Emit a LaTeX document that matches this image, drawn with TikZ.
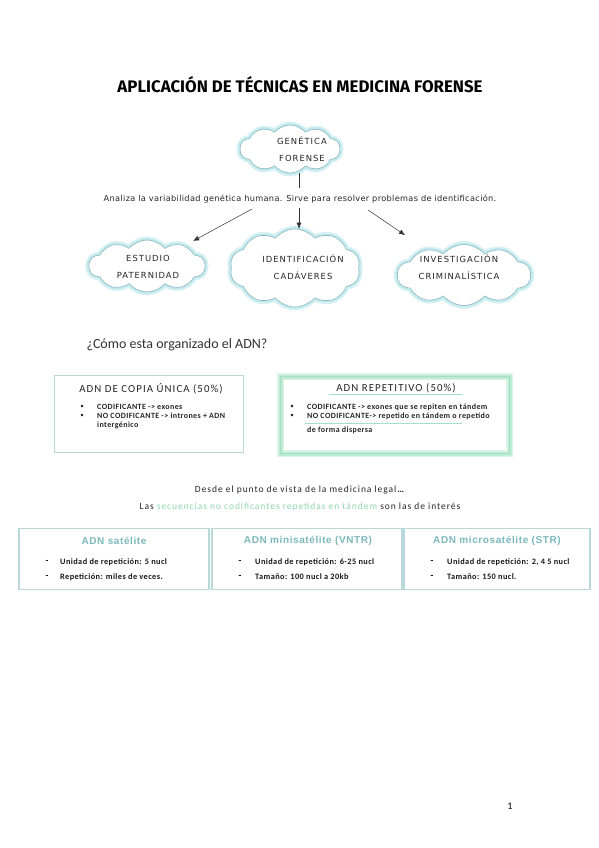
\documentclass[tikz,border=0pt]{standalone}
\usepackage{fontspec}
\usepackage{graphicx}
\usepackage{xcolor}
\usetikzlibrary{shapes.symbols,arrows.meta}
\setmainfont{Carlito}
\newfontfamily\esp{Carlito}[LetterSpace=10]
\newfontfamily\espch{Carlito}[LetterSpace=5]
\newfontfamily\verd{DejaVu Sans}[LetterSpace=12]
\newfontfamily\verdana{DejaVu Sans}[LetterSpace=4]
\newfontfamily\arl{Liberation Sans}[LetterSpace=6]
\newfontfamily\hand{Fira Sans}

\definecolor{glow}{HTML}{C2E9ED}
\definecolor{cloudline}{HTML}{8CB9BF}
\definecolor{mint}{HTML}{BDEBD4}
\definecolor{mintline}{HTML}{A6E0C4}
\definecolor{tealtit}{HTML}{7CB8BC}
\definecolor{boxline}{HTML}{B9D8D9}
\definecolor{greentext}{HTML}{90D4AF}

\tikzset{
  nube/.style={cloud,cloud puffs=10,cloud puff arc=100,cloud ignores aspect,draw=cloudline,line width=0.6pt,fill=white,inner sep=0pt,
    preaction={draw=glow!60,line width=7pt},preaction={draw=glow,line width=4pt}},
  nubetxt/.style={font=\verd\fontsize{8.4}{10}\selectfont,align=center,text=black!85},
  flecha/.style={-{Latex[length=6pt,width=5pt]},line width=0.5pt,black!80},
  titulo/.style={font=\esp\fontsize{10.8}{12}\selectfont,text=black!85},
  punto/.style={font=\fontsize{7}{8}\selectfont,text=black!85},
  item/.style={anchor=west,font=\espch\bfseries\fontsize{8}{9}\selectfont,text=black!85,inner sep=0pt},
  itemtres/.style={anchor=west,font=\espch\bfseries\fontsize{8.3}{9}\selectfont,text=black!90,inner sep=0pt},
  subraya/.style={mintline,line width=0.8pt},
  cajauno/.style={draw=boxline,line width=1pt},
  cajados/.style={draw=mintline,line width=0.8pt,preaction={draw=mint!55,line width=7pt},preaction={draw=mint,line width=4pt}},
  cajatres/.style={draw=boxline,line width=1.3pt,minimum width=190pt,minimum height=61pt},
  tittres/.style={font=\arl\bfseries\fontsize{10}{11}\selectfont,text=tealtit},
  guion/.style={font=\bfseries\fontsize{9}{9}\selectfont}
}

\begin{document}
\begin{tikzpicture}[x=1pt,y=-1pt]
\useasboundingbox[fill=white] (0,0) rectangle (599,848);
\node (titulo) at (300,85) {\resizebox{365pt}{16pt}{\hand\bfseries APLICACIÓN DE TÉCNICAS EN MEDICINA FORENSE}};

% nubes
\node[nube,minimum width=100pt,minimum height=48pt] (gen) at (290,149) {};
\node[nubetxt] (gentxt) at (302,149) {GENÉTICA\\[7pt]FORENSE};
\node[font=\verdana\fontsize{8.2}{9}\selectfont,text=black!85] (analiza) at (300,199) {Analiza la variabilidad genética humana. Sirve para resolver problemas de identificación.};
\coordinate (stem) at (299,188);
\draw[black!80,line width=0.5pt] (gen.south -| stem) -- (stem);

\node[nube,minimum width=116pt,minimum height=52pt] (pat) at (147,266) {};
\node[nubetxt] (pattxt) at (148,267) {ESTUDIO\\[7pt]PATERNIDAD};
\node[nube,minimum width=130pt,minimum height=78pt] (cad) at (295,268) {};
\node[nubetxt] (cadtxt) at (303,267) {IDENTIFICACIÓN\\[7pt]CADÁVERES};
\node[nube,minimum width=133pt,minimum height=61pt] (crim) at (464,275) {};
\node[nubetxt] (crimtxt) at (459,267) {INVESTIGACIÓN\\[7pt]CRIMINALÍSTICA};

\coordinate (al) at (252,209);
\coordinate (am) at (299,208);
\coordinate (ar) at (368,210);
\draw[flecha,shorten >=10pt] (al) -- (pat);
\draw[flecha] (am) -- (am |- cad.north);
\draw[flecha,shorten >=26pt] (ar) -- (crim);

\node[anchor=west,font=\fontsize{14}{16}\selectfont,text=black!80] (pregunta) at (83,345) {¿Cómo esta organizado el ADN?};

% copia unica
\node[cajauno,minimum width=189pt,minimum height=77pt] (copia) at (149,414) {};
\node[titulo] (copiatit) at (151,389) {ADN DE COPIA ÚNICA (50\%)};
\node[punto] at (82,407) {•};
\node[punto] at (82,416) {•};
\node[item] (c1) at (97,407) {CODIFICANTE -> exones};
\node[item] (c2) at (97,416) {NO CODIFICANTE -> intrones + ADN};
\node[item] (c3) at (97,425) {intergénico};

% repetitivo
\node[cajados,minimum width=229pt,minimum height=77pt] (repet) at (395,415) {};
\node[titulo] (repettit) at (396,388) {ADN REPETITIVO (50\%)};
\draw[subraya] ([xshift=-4pt,yshift=-3pt]repettit.base west) -- ([xshift=3pt,yshift=-3pt]repettit.base east);
\node[punto] at (292,407) {•};
\node[punto] at (292,416) {•};
\node[item] (r1) at (307,407) {CODIFICANTE -> exones que se repiten en tándem};
\node[item] (r2) at (307,416) {NO CODIFICANTE-> repetido en tándem o repetido};
\node[item] (r3) at (307,430) {de forma dispersa};
\draw[subraya] (305,423) -- (462,423);

\node[font=\esp\fontsize{9.5}{11}\selectfont,text=black!85] (desde) at (300,490) {Desde el punto de vista de la medicina legal\textbf{…}};
\node[font=\esp\fontsize{9.5}{11}\selectfont,text=black!85] (las) at (300,507) {Las \textcolor{greentext}{secuencias no codificantes repetidas en tándem} son las de interés};

% satelites
\node[cajatres] (sat) at (114,559) {};
\node[tittres] (sattit) at (114,541) {ADN satélite};
\node[guion] at (47,562) {-};
\node[guion] at (47,577) {-};
\node[itemtres] (s1) at (60,562) {Unidad de repetición: 5 nucl};
\node[itemtres] (s2) at (60,577) {Repetición: miles de veces.};

\node[cajatres] (mini) at (307,559) {};
\node[tittres] (minitit) at (308,541) {ADN minisatélite (VNTR)};
\node[guion] at (240,562) {-};
\node[guion] at (240,577) {-};
\node[itemtres] (m1) at (255,562) {Unidad de repetición: 6-25 nucl};
\node[itemtres] (m2) at (255,577) {Tamaño: 100 nucl a 20kb};

\node[cajatres,minimum width=186pt] (micro) at (497,559) {};
\node[tittres] (microtit) at (497,541) {ADN microsatélite (STR)};
\node[guion] at (432,562) {-};
\node[guion] at (432,577) {-};
\node[itemtres] (mc1) at (447,562) {Unidad de repetición: 2, 4 5 nucl};
\node[itemtres] (mc2) at (447,577) {Tamaño: 150 nucl.};

\node[font=\fontsize{10}{12}\selectfont] (pagina) at (510,806) {1};
\end{tikzpicture}
\end{document}
